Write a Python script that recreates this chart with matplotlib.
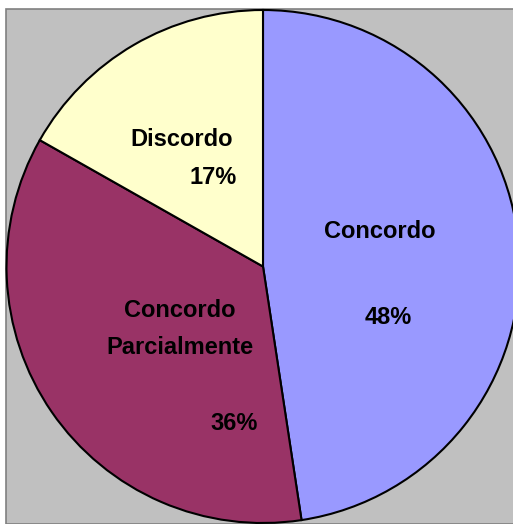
import matplotlib
matplotlib.use("Agg")
import matplotlib.pyplot as plt
from matplotlib.patches import Rectangle
from matplotlib import font_manager

# survey answers (share of respondents, %)
categories = ["Concordo", "Concordo\nParcialmente", "Discordo"]
values = [47.6, 35.6, 16.8]
colors = ["#9999FF", "#993366", "#FFFFCC"]

names = {f.name for f in font_manager.fontManager.ttflist}
fam = "Liberation Sans Narrow" if "Liberation Sans Narrow" in names else "Liberation Sans"
fsize = 18.5 if fam == "Liberation Sans Narrow" else 17

W, H = 513, 524
fig = plt.figure(figsize=(W / 100, H / 100), dpi=100)
fig.patch.set_facecolor("white")

# gray plot area like the old spreadsheet chart
fig.patches.append(Rectangle((6 / W, 0), 1, 1 - 9 / H, transform=fig.transFigure,
                             facecolor="#C0C0C0", edgecolor="#808080", linewidth=1.2, zorder=-5))

# pie centre ~ (263, 266.5) px, radius ~256.5 px
cx, cy, r = 263, 266.5, 256.5
ax = fig.add_axes([(cx - r) / W, (H - cy - r) / H, 2 * r / W, 2 * r / H])
ax.set_facecolor("none")
ax.set_zorder(1)

wedges, _ = ax.pie(values, colors=colors, startangle=90, counterclock=False,
                   wedgeprops=dict(edgecolor="black", linewidth=1.5))
for w in wedges:
    w.set_clip_on(False)
ax.set_xlim(-1, 1)
ax.set_ylim(-1, 1)
ax.set_aspect("auto")
ax.axis("off")

def px(x, y):
    return (x - cx) / r, (cy - y) / r

font = dict(family=[fam, "DejaVu Sans"], fontweight="bold", fontsize=fsize,
            ha="center", va="center", color="black")

# label / percent positions (pixels in the reference)
label_pos = [(380, 231), (180, 329), (182, 140)]
pct_pos = [(388, 317), (234, 424), (213, 178)]
for name, v, lp, pp in zip(categories, values, label_pos, pct_pos):
    ax.text(*px(*lp), name, linespacing=1.8, **font)
    ax.text(*px(*pp), f"{v:.0f}%", **font)

fig.savefig("out.png", dpi=100)
